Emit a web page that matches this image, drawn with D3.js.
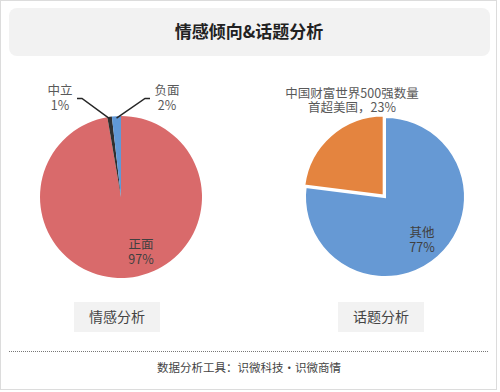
<!DOCTYPE html>
<html>
<head>
<meta charset="utf-8">
<script src="https://cdn.jsdelivr.net/npm/d3@7"></script>
<style>
  body { margin: 0; background: #fff; }
  text { font-family: "Noto Sans CJK SC", "Noto Sans", sans-serif; }
</style>
</head>
<body>
<div id="chart"></div>
<script>
// data
var title = "情感倾向&话题分析";
var footer = "数据分析工具：识微科技・识微商情";
var panelTitles = ["情感分析", "话题分析"];

var sentimentCats = ["正面", "中立", "负面"];
var sentimentVals = [97.3, 0.9, 1.8];
var sentimentColors = ["#d96a6b", "#303030", "#6098d6"];

var topicCats = ["其他", "中国财富世界500强数量|首超美国"];
var topicVals = [77, 23];
var topicColors = ["#6699d4", "#e4843f"];

var width = 500, height = 392;

var svg = d3.select("#chart")
  .append("svg")
    .attr("width", width)
    .attr("height", height);

// outer frame
svg.append("rect")
  .attr("x", 0.5).attr("y", 0.5)
  .attr("width", 496).attr("height", 389)
  .attr("fill", "#fff")
  .attr("stroke", "#dcdcdc");

// title box
svg.append("rect")
  .attr("x", 9).attr("y", 8)
  .attr("width", 481).attr("height", 48)
  .attr("rx", 8)
  .attr("fill", "#f2f2f2");
svg.append("text")
  .attr("x", 249).attr("y", 38)
  .attr("text-anchor", "middle")
  .attr("font-size", "17px")
  .attr("font-weight", "bold")
  .attr("fill", "#222")
  .text(title);

var pct = function(v, total) { return Math.round(v / total * 100) + "%"; };

// ---- left pie: sentiment
var r = 81;
var pie = d3.pie().sort(null).value(function(d) { return d; });
var arc = d3.arc().innerRadius(0).outerRadius(r);

var gL = svg.append("g").attr("transform", "translate(121,197)");
var sArcs = pie(sentimentVals);
var sTotal = d3.sum(sentimentVals);

gL.selectAll("path")
  .data(sArcs)
  .enter().append("path")
    .attr("d", arc)
    .attr("fill", function(d, i) { return sentimentColors[i]; });

// label positions relative to pie centre
var sLabelPos = [
  {x: 20, y: 52, inside: true},
  {x: -61, y: -102, ex: -39, ey: -98.5, lx: -44},
  {x: 46, y: -102, ex: 24, ey: -98.5, lx: 29}
];

sArcs.forEach(function(d, i) {
  var p = sLabelPos[i];
  if (!p.inside) {
    var a = (d.startAngle + d.endAngle) / 2;
    var sx = Math.sin(a) * (r - 2), sy = -Math.cos(a) * (r - 2);
    gL.append("path")
      .attr("d", "M" + sx + "," + sy + "L" + p.ex + "," + p.ey + "L" + p.lx + "," + p.ey)
      .attr("fill", "none")
      .attr("stroke", "#262626")
      .attr("stroke-width", 1.5);
  }
  var t = gL.append("text")
    .attr("text-anchor", "middle")
    .attr("font-size", "12.5px")
    .attr("fill", p.inside ? "#404040" : "#595959");
  t.append("tspan").attr("x", p.x).attr("y", p.y).text(sentimentCats[i]);
  t.append("tspan").attr("x", p.x).attr("y", p.y + 15).text(pct(sentimentVals[i], sTotal));
});

// ---- right pie: topic
var gR = svg.append("g").attr("transform", "translate(385,197)");
var tArcs = pie(topicVals);
var tTotal = d3.sum(topicVals);
var arcR = d3.arc().innerRadius(0).outerRadius(80);

gR.selectAll("path")
  .data(tArcs)
  .enter().append("path")
    .attr("d", arcR)
    .attr("transform", function(d, i) {
      if (i === 0) return null;
      var a = (d.startAngle + d.endAngle) / 2;
      return "translate(" + (Math.sin(a) * 2) + "," + (-Math.cos(a) * 2) + ")";
    })
    .attr("fill", function(d, i) { return topicColors[i]; })
    .attr("stroke", "#fff")
    .attr("stroke-width", 2);

var tLabelPos = [{x: 37, y: 40, inside: true}, {x: -33, y: -99}];
tArcs.forEach(function(d, i) {
  var p = tLabelPos[i];
  var lines = topicCats[i].split("|");
  var t = gR.append("text")
    .attr("text-anchor", "middle")
    .attr("font-size", "12.5px")
    .attr("fill", p.inside ? "#404040" : "#595959");
  if (p.inside) {
    t.append("tspan").attr("x", p.x).attr("y", p.y).text(lines[0]);
    t.append("tspan").attr("x", p.x).attr("y", p.y + 15).text(pct(topicVals[i], tTotal));
  } else {
    t.append("tspan").attr("x", p.x).attr("y", p.y).text(lines[0]);
    t.append("tspan").attr("x", p.x).attr("y", p.y + 14).text(lines[1] + "，" + pct(topicVals[i], tTotal));
  }
});

// panel buttons
var btnX = [74, 338];
panelTitles.forEach(function(name, i) {
  svg.append("rect")
    .attr("x", btnX[i]).attr("y", 302)
    .attr("width", 86).attr("height", 30)
    .attr("fill", "#f2f2f2");
  svg.append("text")
    .attr("x", btnX[i] + 43).attr("y", 322)
    .attr("text-anchor", "middle")
    .attr("font-size", "14px")
    .attr("fill", "#444")
    .text(name);
});

// dotted separator
svg.append("line")
  .attr("x1", 9).attr("x2", 488)
  .attr("y1", 351.5).attr("y2", 351.5)
  .attr("stroke", "#777")
  .attr("stroke-dasharray", "1,1");

svg.append("text")
  .attr("x", 249).attr("y", 372)
  .attr("text-anchor", "middle")
  .attr("font-size", "11.5px")
  .attr("fill", "#444")
  .text(footer);
</script>
</body>
</html>
